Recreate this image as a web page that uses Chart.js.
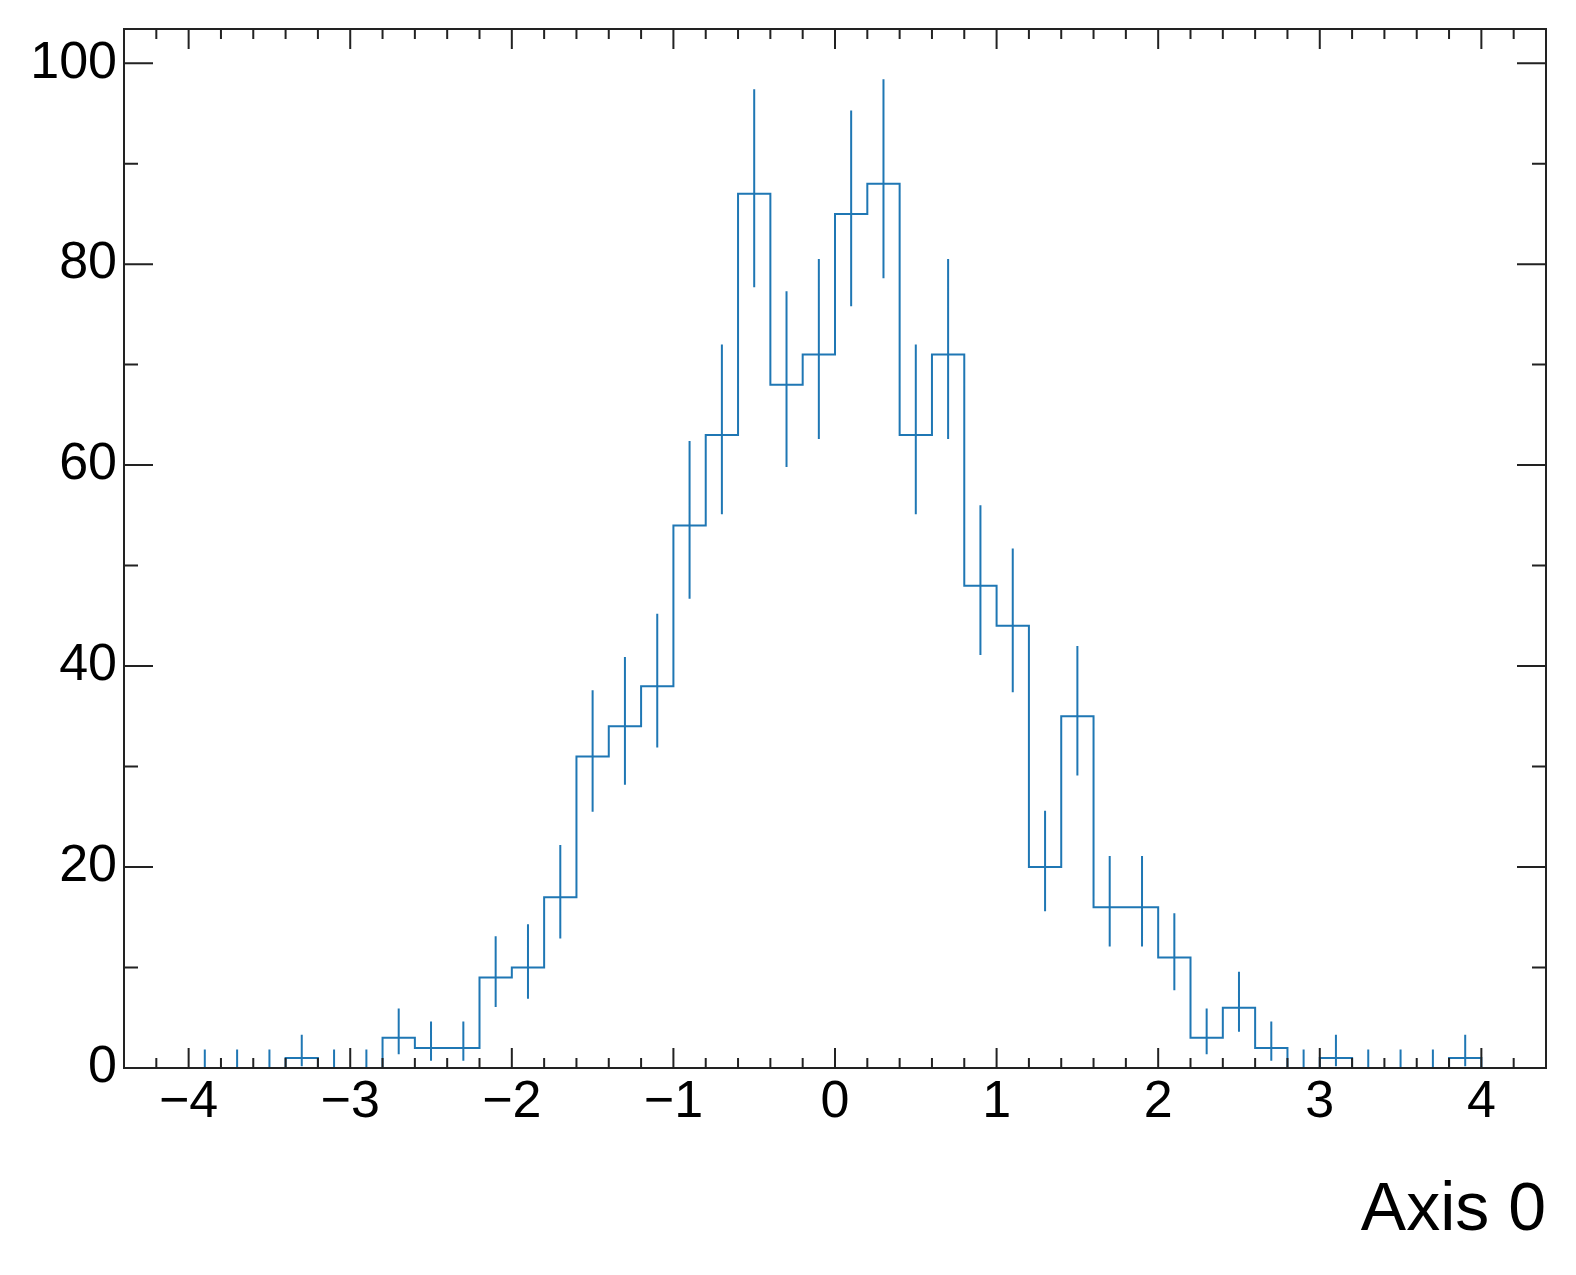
<!DOCTYPE html>
<html>
<head>
<meta charset="utf-8">
<script src="https://cdn.jsdelivr.net/npm/chart.js@4.4.1/dist/chart.umd.min.js"></script>
<style>
  html, body { margin: 0; padding: 0; background: #fff; }
  #wrap { width: 1576px; height: 1275px; }
</style>
</head>
<body>
<div id="wrap"><canvas id="hist"></canvas></div>
<script>
// bin edges run from -4 to 4 in steps of 0.2
const binEdges = [-4.0, -3.8, -3.6, -3.4, -3.2, -3.0, -2.8, -2.6, -2.4, -2.2,
                  -2.0, -1.8, -1.6, -1.4, -1.2, -1.0, -0.8, -0.6, -0.4, -0.2,
                   0.0,  0.2,  0.4,  0.6,  0.8,  1.0,  1.2,  1.4,  1.6,  1.8,
                   2.0,  2.2,  2.4,  2.6,  2.8,  3.0,  3.2,  3.4,  3.6,  3.8, 4.0]

// counts per bin
const counts = [0, 0, 0, 1, 0, 0, 3, 2, 2, 9,
                10, 17, 31, 34, 38, 54, 63, 87, 68, 71,
                85, 88, 63, 71, 48, 44, 20, 35, 16, 16,
                11, 3, 6, 2, 0, 1, 0, 0, 0, 1]

// error bar ends (poisson interval)
const errLow = [0, 0, 0, 0.17, 0, 0, 1.37, 0.71, 0.71, 6.06,
                6.90, 12.9, 25.5, 28.2, 31.9, 46.7, 55.1, 77.7, 59.8, 62.6,
                75.8, 78.6, 55.1, 62.6, 41.1, 37.4, 15.6, 29.1, 12.1, 12.1,
                7.74, 1.37, 3.62, 0.71, 0, 0.17, 0, 0, 0, 0.17]
const errHigh = [1.84, 1.84, 1.84, 3.30, 1.84, 1.84, 5.92, 4.64, 4.64, 13.1,
                 14.3, 22.2, 37.6, 40.9, 45.2, 62.4, 72.0, 97.4, 77.3, 80.5,
                 95.3, 98.4, 72.0, 80.5, 56.0, 51.7, 25.6, 42.0, 21.1, 21.1,
                 15.4, 5.92, 9.58, 4.64, 1.84, 3.30, 1.84, 1.84, 1.84, 3.30]

const xTicks = [-4, -3, -2, -1, 0, 1, 2, 3, 4]
const yTicks = [0, 20, 40, 60, 80, 100]

const blue = '#1f77b4'
const frameColor = '#222222'

// step outline: one point per left edge, closed at the last edge
const stepData = counts.map((c, i) => ({x: binEdges[i], y: c}))
stepData.push({x: binEdges[binEdges.length - 1], y: 0})

// vertical error bars, separated by gaps
const errData = []
counts.forEach((c, i) => {
  const mid = (binEdges[i] + binEdges[i + 1]) / 2
  errData.push({x: mid, y: errLow[i]}, {x: mid, y: errHigh[i]}, {x: mid, y: null})
})

// frame and inward ticks, mplhep style
const frameTicks = {
  id: 'frameTicks',
  afterDatasetsDraw(chart) {
    const {ctx, chartArea: a, scales: {x, y}} = chart
    ctx.save()
    ctx.strokeStyle = frameColor
    ctx.lineWidth = 2
    ctx.beginPath()
    for (let v = -4.4; v <= 4.41; v += 0.2) {
      const val = Math.round(v * 10) / 10
      const px = x.getPixelForValue(val)
      const len = Number.isInteger(val) ? 20 : 10
      ctx.moveTo(px, a.bottom); ctx.lineTo(px, a.bottom - len)
      ctx.moveTo(px, a.top); ctx.lineTo(px, a.top + len)
    }
    for (let v = 0; v <= 100; v += 10) {
      const py = y.getPixelForValue(v)
      const len = v % 20 === 0 ? 29 : 14
      ctx.moveTo(a.left, py); ctx.lineTo(a.left + len, py)
      ctx.moveTo(a.right, py); ctx.lineTo(a.right - len, py)
    }
    ctx.stroke()
    ctx.strokeRect(a.left, a.top, a.right - a.left, a.bottom - a.top)
    ctx.restore()
  }
}

const minusFmt = v => (v < 0 ? '\u2212' + Math.abs(v) : String(v))

new Chart(document.getElementById('hist'), {
  type: 'line',
  data: {
    datasets: [
      {
        data: stepData,
        stepped: 'before',
        borderColor: blue,
        borderWidth: 2,
        pointRadius: 0,
        fill: false
      },
      {
        data: errData,
        borderColor: blue,
        borderWidth: 2,
        pointRadius: 0,
        spanGaps: false,
        fill: false
      }
    ]
  },
  options: {
    responsive: true,
    maintainAspectRatio: false,
    animation: false,
    events: [],
    layout: { padding: { top: 29, right: 30, left: 0, bottom: 0 } },
    plugins: { legend: { display: false }, tooltip: { enabled: false } },
    scales: {
      x: {
        type: 'linear',
        min: -4.4,
        max: 4.4,
        afterBuildTicks: s => { s.ticks = xTicks.map(v => ({value: v})) },
        afterFit: s => { s.height = 207 },
        grid: { display: false, drawTicks: false },
        border: { display: false },
        ticks: {
          color: '#000',
          font: { family: 'Liberation Sans', size: 52, lineHeight: 1 },
          padding: 9,
          maxRotation: 0,
          callback: minusFmt
        },
        title: {
          display: true,
          text: 'Axis 0',
          align: 'end',
          color: '#000',
          font: { family: 'Liberation Sans', size: 68 },
          padding: { top: 0, bottom: 23 }
        }
      },
      y: {
        min: 0,
        max: 103.4,
        afterBuildTicks: s => { s.ticks = yTicks.map(v => ({value: v})) },
        afterFit: s => { s.width = 124 },
        grid: { display: false, drawTicks: false },
        border: { display: false },
        ticks: {
          color: '#000',
          font: { family: 'Liberation Sans', size: 52, lineHeight: 0.8 },
          padding: 7
        }
      }
    }
  },
  plugins: [frameTicks]
})
</script>
</body>
</html>
